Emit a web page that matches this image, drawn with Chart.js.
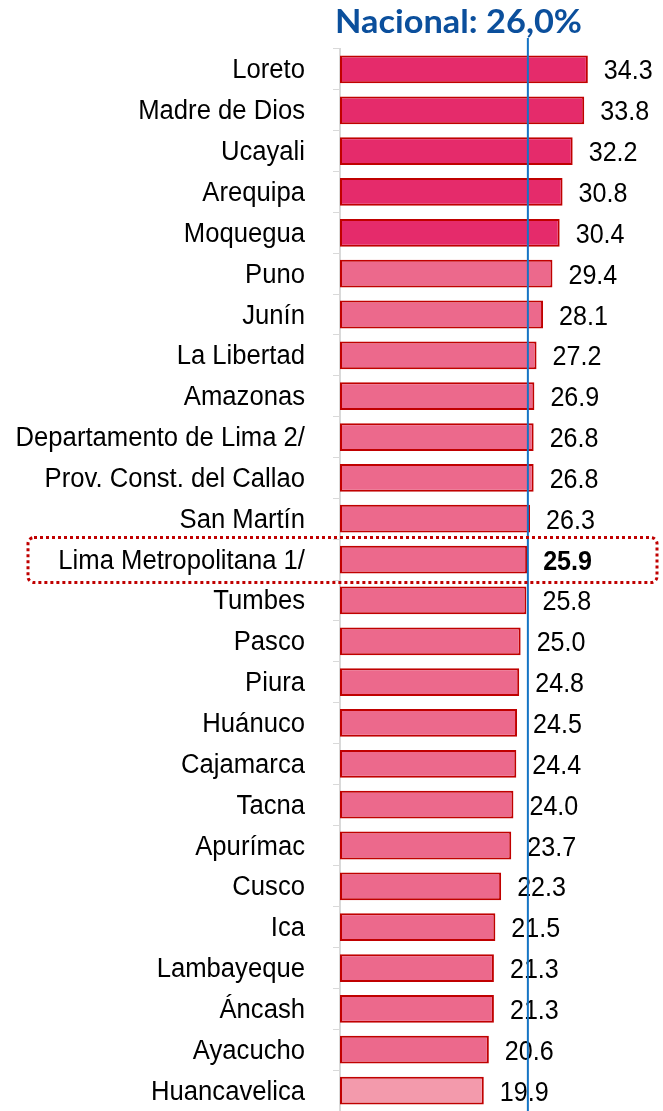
<!DOCTYPE html>
<html>
<head>
<meta charset="utf-8">
<script src="https://cdn.jsdelivr.net/npm/chart.js@4"></script>
<style>
  html, body { margin: 0; padding: 0; background: #fff; }
  canvas { display: block; }
</style>
</head>
<body>
<canvas id="chart" width="663" height="1111"></canvas>
<script>
const regions = ["Loreto", "Madre de Dios", "Ucayali", "Arequipa", "Moquegua", "Puno", "Junín",
  "La Libertad", "Amazonas", "Departamento de Lima 2/", "Prov. Const. del Callao", "San Martín",
  "Lima Metropolitana 1/", "Tumbes", "Pasco", "Piura", "Huánuco", "Cajamarca", "Tacna",
  "Apurímac", "Cusco", "Ica", "Lambayeque", "Áncash", "Ayacucho", "Huancavelica"];
const values = [34.3, 33.8, 32.2, 30.8, 30.4, 29.4, 28.1, 27.2, 26.9, 26.8, 26.8, 26.3,
  25.9, 25.8, 25.0, 24.8, 24.5, 24.4, 24.0, 23.7, 22.3, 21.5, 21.3, 21.3, 20.6, 19.9];
const nacional = 26.0;
const nacionalLabel = "Nacional: 26,0%";
const highlight = "Lima Metropolitana 1/";

const sans = "'Liberation Sans', Arial, sans-serif";

// colour groups: top five darker, last one lighter
const fills = values.map((v, i) => i < 5 ? "#E52B6B" : (i === values.length - 1 ? "#F39AAC" : "#EC698C"));

// draw text squeezed horizontally, to look like a narrow font
function narrowText(ctx, text, x, y, align, squeeze) {
  const w = ctx.measureText(text).width * squeeze;
  const left = align === "right" ? x - w : x;
  ctx.save();
  ctx.translate(left, y);
  ctx.scale(squeeze, 1);
  ctx.textAlign = "left";
  ctx.fillText(text, 0, 0);
  ctx.restore();
}

const extras = {
  id: "extras",
  afterDatasetsDraw(chart) {
    const ctx = chart.ctx;
    const x = chart.scales.x, y = chart.scales.y;
    const area = chart.chartArea;

    // category labels and value labels
    ctx.save();
    ctx.fillStyle = "#000";
    ctx.textBaseline = "alphabetic";
    regions.forEach((name, i) => {
      const cy = y.getPixelForValue(i);
      ctx.font = "27px " + sans;
      narrowText(ctx, name, 305, cy + 9, "right", 0.95);
      ctx.font = (name === highlight ? "bold " : "") + "27px " + sans;
      narrowText(ctx, values[i].toFixed(1), x.getPixelForValue(values[i]) + 16, cy + 10, "left", 0.93);
    });
    ctx.restore();

    // national average line
    const nx = x.getPixelForValue(nacional);
    ctx.save();
    ctx.strokeStyle = "#1574C4";
    ctx.lineWidth = 2;
    ctx.beginPath();
    ctx.moveTo(nx, 38);
    ctx.lineTo(nx, area.bottom);
    ctx.stroke();
    ctx.restore();

    // title, fitted to its width in the reference
    ctx.save();
    ctx.fillStyle = "#0B4F9C";
    ctx.font = "bold 32px Lato, 'Open Sans', sans-serif";
    const tw = ctx.measureText(nacionalLabel).width;
    ctx.translate(335, 33);
    ctx.scale(247 / tw, 1);
    ctx.textAlign = "left";
    ctx.fillText(nacionalLabel, 0, 0);
    ctx.restore();

    // dotted box around highlighted row
    const cy = y.getPixelForValue(regions.indexOf(highlight));
    ctx.save();
    ctx.strokeStyle = "#C00000";
    ctx.lineWidth = 3;
    ctx.setLineDash([3, 3]);
    ctx.beginPath();
    ctx.roundRect(28, cy - 22, 629, 45, 6);
    ctx.stroke();
    ctx.restore();
  }
};

new Chart(document.getElementById("chart"), {
  type: "bar",
  data: {
    labels: regions,
    datasets: [{
      data: values,
      backgroundColor: fills,
      borderColor: "#C00000",
      borderWidth: 2,
      borderSkipped: false,
      categoryPercentage: 1,
      barPercentage: 0.68
    }]
  },
  options: {
    indexAxis: "y",
    responsive: false,
    animation: false,
    layout: { padding: { top: 49, right: 0, bottom: 0, left: 0 } },
    plugins: { legend: { display: false }, tooltip: { enabled: false } },
    scales: {
      x: { display: false, min: 0, max: 44.7 },
      y: {
        afterFit(scale) { scale.width = 340; },
        border: { display: true, color: "#D9D9D9", width: 2 },
        grid: { drawOnChartArea: false, drawTicks: true, tickLength: 7, color: "#D9D9D9", offset: true },
        ticks: { display: false, autoSkip: false }
      }
    }
  },
  plugins: [extras]
});
</script>
</body>
</html>
